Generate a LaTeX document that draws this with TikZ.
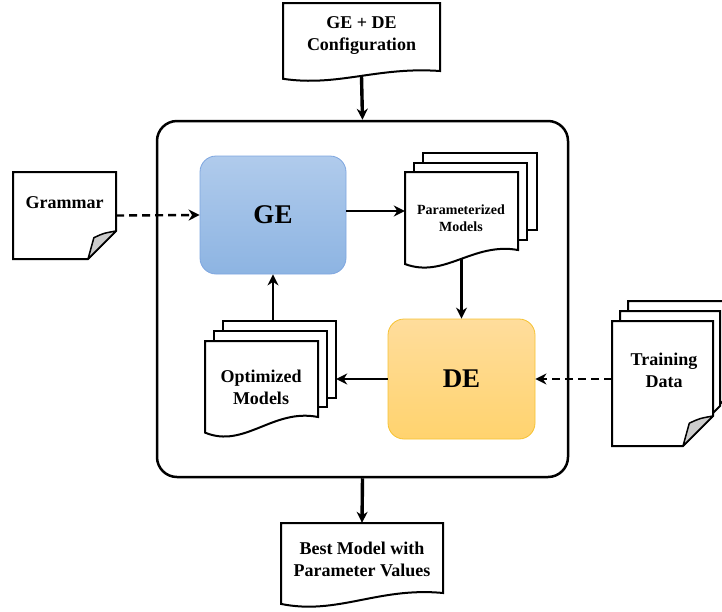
\documentclass[tikz,border=0pt]{standalone}
\usepackage{fontspec}
\setmainfont{Liberation Serif}
\usetikzlibrary{arrows.meta,calc}

\definecolor{geTop}{RGB}{176,203,236}
\definecolor{geBot}{RGB}{141,180,226}
\definecolor{geLine}{RGB}{126,166,224}
\definecolor{deTop}{RGB}{255,221,156}
\definecolor{deBot}{RGB}{255,211,110}
\definecolor{deLine}{RGB}{246,194,50}
\definecolor{foldgray}{RGB}{204,204,204}

\tikzset{
  docbody/.style={rectangle, draw=none, inner sep=0pt},
  docline/.style={line width=2pt, fill=white, line join=miter},
  doctext/.style={font=\fontsize{18}{22}\selectfont\bfseries, align=center, inner sep=0pt},
  smalltext/.style={font=\fontsize{14}{17}\selectfont\bfseries, align=center, inner sep=0pt},
  procbox/.style={rectangle, rounded corners=16pt, line width=0.8pt,
    font=\fontsize{27}{30}\selectfont\bfseries},
  frame/.style={rectangle, draw, line width=2.5pt, rounded corners=20pt},
  flow/.style={line width=2.4pt, -{Stealth[length=11pt,width=11pt,inset=3.5pt]}},
  bigflow/.style={flow, line width=3.4pt},
  dashflow/.style={flow, dash pattern=on 8pt off 5pt},
}

% page with a wavy lower edge: x0, y0, x1, lowest y, wave depth
\newcommand\waveoutline[5]{%
  \draw[docline] (#1,#2) -- (#3,#2) -- (#3,{#4-#5})
    .. controls ({#1+0.6*(#3-#1)},{#4-1.45*#5}) and ({#1+0.35*(#3-#1)},{#4+0.6*#5})
    .. (#1,{#4-0.22*#5}) -- cycle;}
% plain back sheet behind a stack: x0, y0, x1, y1
\newcommand\sheetoutline[4]{%
  \draw[docline] (#1,#2) rectangle (#3,#4);}
% page with a curled lower right corner: x0, y0, x1, y1, fold size, with curl?
\newcommand\noteoutline[6]{%
  \draw[docline] (#1,#2) -- (#3,#2) -- (#3,{#4-#5}) -- ({#3-#5},#4) -- (#1,#4) -- cycle;
  \ifnum#6=1
  \draw[line width=1.5pt, fill=foldgray, line join=round] (#3,{#4-#5})
    .. controls ({#3-0.45*#5},{#4-0.92*#5}) .. ({#3-0.79*#5},{#4-0.76*#5})
    -- ({#3-#5},#4) -- cycle;
  \fi}

\begin{document}
\begin{tikzpicture}[x=1pt,y=-1pt]
\useasboundingbox (0,0) rectangle (722,611);

% outer frame
\node[frame, minimum width=411pt, minimum height=356pt] (frame) at (362.5,299) {};

% configuration input
\waveoutline{283}{3}{440}{81}{10}
\node[docbody, minimum width=157pt, minimum height=78pt] (cfg) at (361.5,42) {};
\node[doctext] (cfg-label) at (361.5,36) {GE + DE\\Configuration};

% grammar input
\noteoutline{13}{172}{116}{259}{28}{1}
\node[docbody, minimum width=103pt, minimum height=87pt] (gr) at (64.5,215.5) {};
\node[doctext] (gr-label) at (64.5,203) {Grammar};

% training data stack
\noteoutline{628}{301}{728}{426}{30}{0}
\noteoutline{620}{311}{720}{436}{30}{0}
\noteoutline{612}{321}{713}{446}{30}{1}
\node[docbody, minimum width=101pt, minimum height=125pt] (tr) at (662.5,383.5) {};
\node[doctext] (tr-label) at (664,370) {Training\\Data};

% GE and DE processes
\node[procbox, top color=geTop, bottom color=geBot, draw=geLine,
  minimum width=146pt, minimum height=118pt] (GE) at (273,215) {GE};
\node[procbox, top color=deTop, bottom color=deBot, draw=deLine,
  minimum width=147pt, minimum height=120pt] (DE) at (461.5,379) {DE};

% parameterized models stack
\sheetoutline{423}{153}{537}{230}
\sheetoutline{414}{163}{527}{240}
\waveoutline{405}{172}{518}{268}{18}
\node[docbody, minimum width=132pt, minimum height=115pt] (pm) at (471,210.5) {};
\node[smalltext] (pm-label) at (461,218.5) {Parameterized\\Models};

% optimized models stack
\sheetoutline{223}{321}{336}{398}
\sheetoutline{214}{331}{327}{407}
\waveoutline{205}{341}{318}{437}{20}
\node[docbody, minimum width=131pt, minimum height=116pt] (om) at (270.5,379) {};
\node[doctext] (om-label) at (261,387.5) {Optimized\\Models};

% result
\waveoutline{281}{523}{443}{607}{14}
\node[docbody, minimum width=162pt, minimum height=84pt] (best) at (362,565) {};
\node[doctext] (best-label) at (362,559.5) {Best Model with\\Parameter Values};

% connectors
\draw[bigflow] ([yshift=5pt]cfg.south) -- (frame.north);
\draw[bigflow] (frame.south) -- (best.north);
\draw[dashflow] (gr.east) -- (GE.west);
\draw[flow] ([yshift=4pt]GE.east) -- ([yshift=4pt]GE.east -| pm.west);
\draw[flow] ([yshift=9pt]DE.north |- pm.south) -- (DE.north);
\draw[flow] (DE.west) -- (DE.west -| om.east);
\draw[flow] (GE.south |- om.north) -- (GE.south);
\draw[dashflow] (DE.east -| tr.west) -- (DE.east);
\end{tikzpicture}
\end{document}
